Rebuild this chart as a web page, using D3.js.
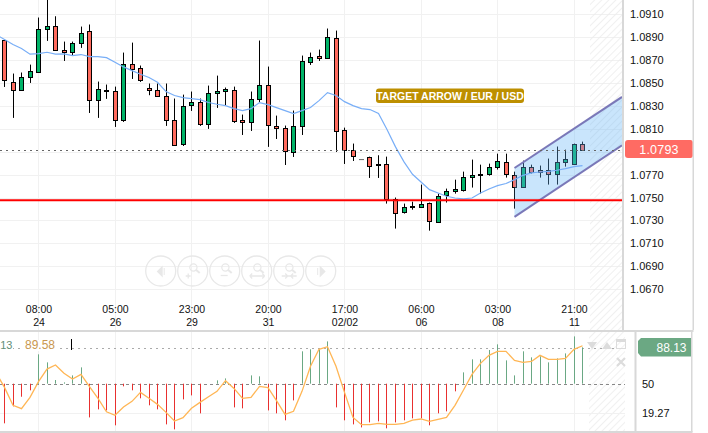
<!DOCTYPE html>
<html>
<head>
<meta charset="utf-8">
<script src="https://cdnjs.cloudflare.com/ajax/libs/d3/7.8.5/d3.min.js"></script>
<style>
html, body { margin: 0; padding: 0; background: #fff; }
svg { display: block; font-family: "Liberation Sans", Arial, sans-serif; }
</style>
</head>
<body>
<div id="chartContainer"></div>
<script>
const opens = [1.08873,1.08512,1.08439,1.08556,1.08599,1.08975,1.09001,1.08791,1.08774,1.08852,1.08957,1.08355,1.08433,1.08433,1.08180,1.08669,1.08634,1.08460,1.08442,1.08390,1.08180,1.07971,1.08308,1.08337,1.08145,1.08416,1.08433,1.08442,1.08180,1.08163,1.08364,1.08486,1.08128,1.08110,1.07901,1.08128,1.08687,1.08739,1.08721,1.08896,1.08093,1.07918,1.07831,1.07857,1.07779,1.07796,1.07491,1.07377,1.07421,1.07421,1.07456,1.07290,1.07525,1.07560,1.07569,1.07683,1.07700,1.07709,1.07770,1.07814,1.07700,1.07595,1.07770,1.07744,1.07744,1.07709,1.07814,1.07796,1.07971];
const highs = [1.08873,1.08582,1.08591,1.08660,1.09071,1.09300,1.09082,1.08861,1.08861,1.08992,1.09010,1.08512,1.08486,1.08468,1.08765,1.08852,1.08652,1.08495,1.08495,1.08495,1.08364,1.08398,1.08425,1.08364,1.08477,1.08564,1.08460,1.08468,1.08224,1.08425,1.08870,1.08643,1.08215,1.08128,1.08259,1.08739,1.08765,1.08791,1.08975,1.08957,1.08110,1.07971,1.07831,1.07857,1.07869,1.07857,1.07500,1.07447,1.07464,1.07613,1.07456,1.07534,1.07578,1.07656,1.07726,1.07831,1.07787,1.07796,1.07883,1.07883,1.07726,1.07822,1.07787,1.07779,1.07840,1.07945,1.07918,1.07971,1.07988];
const lows = [1.08465,1.08195,1.08430,1.08500,1.08599,1.08867,1.08780,1.08692,1.08742,1.08806,1.08238,1.08195,1.08361,1.08116,1.08160,1.08535,1.08509,1.08393,1.08387,1.08125,1.07950,1.07950,1.08256,1.08125,1.08099,1.08282,1.08300,1.08151,1.08046,1.08081,1.08334,1.07942,1.08011,1.07784,1.07854,1.08046,1.08657,1.08692,1.08721,1.07898,1.07793,1.07819,1.07831,1.07671,1.07671,1.07447,1.07229,1.07360,1.07394,1.07421,1.07211,1.07281,1.07456,1.07534,1.07552,1.07587,1.07534,1.07691,1.07744,1.07674,1.07403,1.07587,1.07709,1.07674,1.07613,1.07613,1.07770,1.07796,1.07910];
const closes = [1.08521,1.08442,1.08556,1.08608,1.08975,1.09001,1.08788,1.08771,1.08852,1.08940,1.08355,1.08451,1.08442,1.08180,1.08669,1.08625,1.08529,1.08442,1.08387,1.08180,1.07962,1.08302,1.08337,1.08145,1.08416,1.08433,1.08451,1.08171,1.08163,1.08364,1.08486,1.08137,1.08110,1.07910,1.08128,1.08695,1.08730,1.08721,1.08905,1.08084,1.07918,1.07866,1.07831,1.07779,1.07790,1.07491,1.07368,1.07421,1.07429,1.07447,1.07299,1.07517,1.07560,1.07578,1.07683,1.07700,1.07709,1.07770,1.07822,1.07709,1.07595,1.07770,1.07726,1.07726,1.07709,1.07814,1.07840,1.07971,1.07918];
// moving average, first value sits one candle before the first candle
const maValues = [1.08922,1.08879,1.08835,1.08800,1.08751,1.08756,1.08768,1.08751,1.08753,1.08739,1.08748,1.08730,1.08730,1.08721,1.08681,1.08640,1.08608,1.08576,1.08547,1.08506,1.08425,1.08390,1.08372,1.08364,1.08355,1.08329,1.08314,1.08302,1.08276,1.08259,1.08276,1.08329,1.08311,1.08285,1.08259,1.08233,1.08259,1.08285,1.08346,1.08416,1.08390,1.08337,1.08302,1.08276,1.08268,1.08233,1.08093,1.07942,1.07811,1.07703,1.07636,1.07569,1.07540,1.07511,1.07496,1.07488,1.07496,1.07540,1.07575,1.07604,1.07622,1.07656,1.07694,1.07715,1.07723,1.07729,1.07738,1.07752,1.07770,1.07779];

const oscBars = [8.0,26.0,36.2,43.0,81.1,72.6,53.9,51.4,58.8,67.3,14.3,22.8,21.7,5.9,47.2,43.0,34.5,27.1,22.8,6.9,1.6,33.4,37.6,18.6,50,53.5,55.6,24.9,23.9,58.8,57.8,21.7,18.6,11.2,32.3,84.3,86.4,86.4,94.8,24.9,11.2,6.9,3.7,9.0,10.1,2.7,9.0,11.2,13.3,13.3,5.9,18.6,20.7,41.9,62.0,75.8,75.8,85.7,91.7,74.7,58.8,84.3,77.9,79.0,72.6,76.8,82.1,100.1,88.5];
// signal line, same offset as maValues
const oscLine = [61.6,46.1,27.1,23.5,35.5,52.1,65.5,69.8,61.0,55.0,59.9,46.8,34.5,20.3,16.5,25.3,31.3,40.8,34.5,28.1,19.6,10.4,14.0,23.9,30.2,36.2,41.9,53.2,45.0,34.5,35.5,47.2,45.8,32.0,17.5,20.7,41.9,68.4,86.4,89.2,68.4,40.8,14.3,6.6,6.6,8.0,6.9,6.9,8.0,11.5,12.6,10.1,12.2,14.3,27.1,43.3,59.9,71.5,80.0,84.3,84.3,74.7,72.6,73.6,80.0,75.8,75.8,76.8,86.4,90.2];

const priceTicks = [1.0910,1.0890,1.0870,1.0850,1.0830,1.0810,1.0770,1.0750,1.0730,1.0710,1.0690,1.0670];
const gridPrices = priceTicks.concat([1.0790]);
const timeIdx = [4,13,22,31,40,49,58,67];
const timeLabels = ["08:00","05:00","23:00","20:00","17:00","06:00","03:00","21:00"];
const dayLabels = ["24","26","29","31","02/02","06","08","11"];
const oscTicks = [50,19.27];

const supportPrice = 1.07476;
const lastPrice = closes[closes.length - 1];
const channelUpper = [[60,1.07758],[72.65,1.08378]];
const channelLower = [[60,1.07331],[72.65,1.07956]];

const width = 708, height = 433;
const plotRight = 622, plotBottom = 330;

const svg = d3.select("#chartContainer").append("svg").attr("width", width).attr("height", height);

const x = d3.scaleLinear().domain([0, 68]).range([4.5, 582.5]);
const y = d3.scaleLinear().domain([1.0910, 1.0670]).range([14.2, 289.2]);
const yOsc = d3.scaleLinear().domain([88.13, 19.27]).range([347.7, 412.7]);
const px = (i) => Math.floor(x(i)) + 0.5;

const defs = svg.append("defs");
const hatch = defs.append("pattern").attr("id", "hatch").attr("width", 5).attr("height", 5)
	.attr("patternUnits", "userSpaceOnUse").attr("patternTransform", "rotate(45)");
hatch.append("line").attr("x1", 0).attr("y1", 0).attr("x2", 0).attr("y2", 5).attr("stroke", "#ebebeb").attr("stroke-width", 1.5);
defs.append("clipPath").attr("id", "clipMain").append("rect").attr("width", plotRight).attr("height", plotBottom);
defs.append("clipPath").attr("id", "clipOsc").append("rect").attr("y", 332).attr("width", 634).attr("height", 99);

// grid
const main = svg.append("g").attr("clip-path", "url(#clipMain)");
main.selectAll(".gridH").data(gridPrices).join("line")
	.attr("x1", 0).attr("x2", plotRight)
	.attr("y1", (d) => Math.round(y(d)) + 0.5).attr("y2", (d) => Math.round(y(d)) + 0.5)
	.attr("stroke", "#f1f1f1");
main.selectAll(".gridV").data(timeIdx).join("line")
	.attr("x1", (d) => px(d)).attr("x2", (d) => px(d))
	.attr("y1", 0).attr("y2", plotBottom)
	.attr("stroke", "#f1f1f1");
main.append("rect").attr("x", 590).attr("y", 0).attr("width", 32).attr("height", plotBottom).attr("fill", "url(#hatch)");

// candles
const candles = d3.range(opens.length);
main.selectAll(".wick").data(candles).join("line")
	.attr("x1", (i) => px(i)).attr("x2", (i) => px(i))
	.attr("y1", (i) => y(highs[i])).attr("y2", (i) => y(lows[i]))
	.attr("stroke", "#000");
main.selectAll(".body").data(candles.filter((i) => opens[i] !== closes[i])).join("rect")
	.attr("x", (i) => px(i) - 2)
	.attr("width", 4)
	.attr("y", (i) => Math.round(y(Math.max(opens[i], closes[i]))) + 0.5)
	.attr("height", (i) => Math.max(1, Math.round(Math.abs(y(opens[i]) - y(closes[i])))))
	.attr("fill", (i) => closes[i] > opens[i] ? "#00b368" : "#ff6b5e")
	.attr("stroke", "#000");
main.selectAll(".doji").data(candles.filter((i) => opens[i] === closes[i])).join("line")
	.attr("x1", (i) => px(i) - 2.5).attr("x2", (i) => px(i) + 2.5)
	.attr("y1", (i) => y(opens[i])).attr("y2", (i) => y(opens[i]))
	.attr("stroke", "#666");

// price channel
const chLine = d3.line().x((d) => x(d[0])).y((d) => y(d[1]));
main.append("path")
	.attr("d", chLine(channelUpper.concat(channelLower.slice().reverse())) + "Z")
	.attr("fill", "rgb(100,180,245)").attr("fill-opacity", 0.35);
main.append("path").attr("d", chLine(channelUpper)).attr("fill", "none").attr("stroke", "#7a78b8").attr("stroke-width", 2);
main.append("path").attr("d", chLine(channelLower)).attr("fill", "none").attr("stroke", "#7a78b8").attr("stroke-width", 2);

// moving average
main.append("path")
	.attr("d", d3.line().x((d, i) => x(i - 1)).y((d) => y(d))(maValues))
	.attr("fill", "none").attr("stroke", "#78aef7").attr("stroke-width", 1.2);

// last price + support
main.append("line").attr("x1", 0).attr("x2", plotRight)
	.attr("y1", Math.round(y(lastPrice)) + 0.5).attr("y2", Math.round(y(lastPrice)) + 0.5)
	.attr("stroke", "#666").attr("stroke-dasharray", "2,4");
main.append("line").attr("x1", 0).attr("x2", plotRight)
	.attr("y1", y(supportPrice)).attr("y2", y(supportPrice))
	.attr("stroke", "#f00").attr("stroke-width", 2);

// target label
svg.append("rect").attr("x", 376).attr("y", 88.5).attr("width", 148).attr("height", 14.5).attr("rx", 3).attr("fill", "#bd8f00");
svg.append("text").attr("x", 450).attr("y", 99.6).attr("text-anchor", "middle")
	.attr("fill", "#fff").attr("font-size", 10.5).attr("font-weight", "bold")
	.text("TARGET ARROW / EUR / USD");

// zoom buttons
const btnColor = "#e8e8e8";
const buttons = svg.append("g");
const btnX = [160.7,192.7,224.7,256.7,288.7,320.7];
btnX.forEach((cx, i) => {
	const g = buttons.append("g").attr("transform", "translate(" + cx + ",271)");
	g.append("circle").attr("r", 15).attr("fill", "none").attr("stroke", btnColor).attr("stroke-width", 1.3);
	if (i === 0) {
		g.append("path").attr("d", "M-4,0.5L2,-5.5L2,6.5Z").attr("fill", btnColor);
		g.append("path").attr("d", "M3.5,-3V4").attr("stroke", btnColor);
	} else if (i === 5) {
		g.append("path").attr("d", "M-1,-5.5L-1,6.5L5,0.5Z").attr("fill", btnColor);
		g.append("path").attr("d", "M-3,-3V4").attr("stroke", btnColor);
	} else {
		g.append("circle").attr("cx", 0.7).attr("cy", -3.5).attr("r", 3.6).attr("fill", "none").attr("stroke", btnColor).attr("stroke-width", 1.2);
		g.append("path").attr("d", "M3.5,-1L7,2").attr("stroke", btnColor).attr("stroke-width", 2);
		let d = "";
		if (i === 1) d = "M-7,5H-2M-4.5,2.5V7.5";
		if (i === 2) d = "M-4,4.5H3";
		if (i === 3) d = "M-7,5H8M-7,5L-4.5,2.5M-7,5L-4.5,7.5M8,5L5.5,2.5M8,5L5.5,7.5";
		if (i === 4) d = "M-7,5H8M-1,5L-3.5,2.5M-1,5L-3.5,7.5M2,5L4.5,2.5M2,5L4.5,7.5";
		g.append("path").attr("d", d).attr("fill", "none").attr("stroke", btnColor).attr("stroke-width", 1.3);
	}
});

// lower panel
const osc = svg.append("g").attr("clip-path", "url(#clipOsc)");
osc.selectAll(".gridV").data(timeIdx).join("line")
	.attr("x1", (d) => px(d)).attr("x2", (d) => px(d))
	.attr("y1", 332).attr("y2", 431).attr("stroke", "#f1f1f1");
osc.append("rect").attr("x", 589).attr("y", 332).attr("width", 36).attr("height", 99).attr("fill", "url(#hatch)");
osc.append("line").attr("x1", 0).attr("x2", 625)
	.attr("y1", Math.round(yOsc(19.27)) + 0.5).attr("y2", Math.round(yOsc(19.27)) + 0.5).attr("stroke", "#f1f1f1");
osc.append("line").attr("x1", 0).attr("x2", 625)
	.attr("y1", Math.round(yOsc(88.13)) + 0.5).attr("y2", Math.round(yOsc(88.13)) + 0.5)
	.attr("stroke", "#aaa").attr("stroke-dasharray", "2,4");
osc.append("line").attr("x1", 0).attr("x2", 625)
	.attr("y1", Math.round(yOsc(50)) + 0.5).attr("y2", Math.round(yOsc(50)) + 0.5)
	.attr("stroke", "#888").attr("stroke-dasharray", "3,3");
osc.selectAll(".bar").data(oscBars).join("line")
	.attr("x1", (d, i) => px(i)).attr("x2", (d, i) => px(i))
	.attr("y1", yOsc(50)).attr("y2", (d) => yOsc(d))
	.attr("stroke", (d) => d >= 50 ? "#6aa884" : "#e8302f");
osc.append("path")
	.attr("d", d3.line().x((d, i) => x(i - 1)).y((d) => yOsc(d))(oscLine))
	.attr("fill", "none").attr("stroke", "#ffb655").attr("stroke-width", 1.3);

// legend readout, sits on white so the dotted level doesn't run through it
svg.append("rect").attr("x", 0).attr("y", 340).attr("width", 13).attr("height", 11).attr("fill", "#fff");
svg.append("rect").attr("x", 24).attr("y", 340).attr("width", 32).attr("height", 11).attr("fill", "#fff");
svg.append("text").attr("x", 0.2).attr("y", 349).attr("font-size", 11).attr("fill", "#5f8f78").text("13");
svg.append("text").attr("x", 25).attr("y", 349).attr("font-size", 12).attr("fill", "#c9974f").text("89.58");
svg.append("line").attr("x1", 71.5).attr("x2", 71.5).attr("y1", 339).attr("y2", 350).attr("stroke", "#000");

// panel controls
const ctl = svg.append("g").attr("fill", "#dcdcdc");
ctl.append("path").attr("d", "M587,342L597,342L592,349Z");
ctl.append("path").attr("d", "M602,349L612,349L607,342Z");
ctl.append("rect").attr("x", 616.5).attr("y", 339.5).attr("width", 9).attr("height", 9).attr("fill", "none").attr("stroke", "#dcdcdc");
ctl.append("rect").attr("x", 616.5).attr("y", 339.5).attr("width", 9).attr("height", 2.5);
ctl.append("path").attr("d", "M617,358L625,366M625,358L617,366").attr("stroke", "#dcdcdc").attr("stroke-width", 2.2);

// panel frames
const frame = svg.append("g").attr("fill", "#d8d8d8");
frame.append("rect").attr("x", 0).attr("y", 330).attr("width", 693.5).attr("height", 2);
frame.append("rect").attr("x", 622).attr("y", 0).attr("width", 2).attr("height", 330);
frame.append("rect").attr("x", 692.5).attr("y", 0).attr("width", 1.5).attr("height", 330);
frame.append("rect").attr("x", 634.5).attr("y", 332).attr("width", 2).attr("height", 100);
frame.append("rect").attr("x", 691).attr("y", 332).attr("width", 1.5).attr("height", 100);
frame.append("rect").attr("x", 0).attr("y", 431).attr("width", 692.5).attr("height", 2);

// axes
const yAxis = svg.append("g").attr("transform", "translate(624,0)")
	.call(d3.axisRight(y).tickValues(priceTicks).tickFormat(d3.format(".4f")).tickSize(0).tickPadding(6));
yAxis.select(".domain").remove();
yAxis.selectAll("text").attr("font-family", "Liberation Sans").attr("font-size", 11).attr("fill", "#111");

const xAxis = svg.append("g").attr("transform", "translate(0,306)")
	.call(d3.axisBottom(x).tickValues(timeIdx).tickFormat((d, i) => timeLabels[i]).tickSize(0).tickPadding(0));
xAxis.select(".domain").remove();
xAxis.selectAll("text").attr("font-family", "Liberation Sans").attr("font-size", 10.5).attr("fill", "#111");
xAxis.selectAll(".tick").append("text")
	.attr("y", 19.7).attr("fill", "#111").attr("font-family", "Liberation Sans").attr("font-size", 10.5)
	.text((d, i) => dayLabels[i]);

const oscAxis = svg.append("g").attr("transform", "translate(636,0)")
	.call(d3.axisRight(yOsc).tickValues(oscTicks).tickFormat((d) => d).tickSize(0).tickPadding(6));
oscAxis.select(".domain").remove();
oscAxis.selectAll("text").attr("font-family", "Liberation Sans").attr("font-size", 11).attr("fill", "#111");

// price flags
svg.append("path").attr("d", "M628,140H690.5Q692.5,140 692.5,142V156Q692.5,158 690.5,158H628Q625,158 625,155V143Q625,140 628,140Z").attr("fill", "#ff6b63");
svg.append("text").attr("x", 659).attr("y", 153.5).attr("text-anchor", "middle").attr("fill", "#fff").attr("font-size", 12.5).attr("letter-spacing", 0.2).text("1.0793");
svg.append("path").attr("d", "M641,338H691V356.5H641L638,353V341Z").attr("fill", "#6ba883");
svg.append("text").attr("x", 671.5).attr("y", 351.5).attr("text-anchor", "middle").attr("fill", "#fff").attr("font-size", 12).text("88.13");
</script>
</body>
</html>
